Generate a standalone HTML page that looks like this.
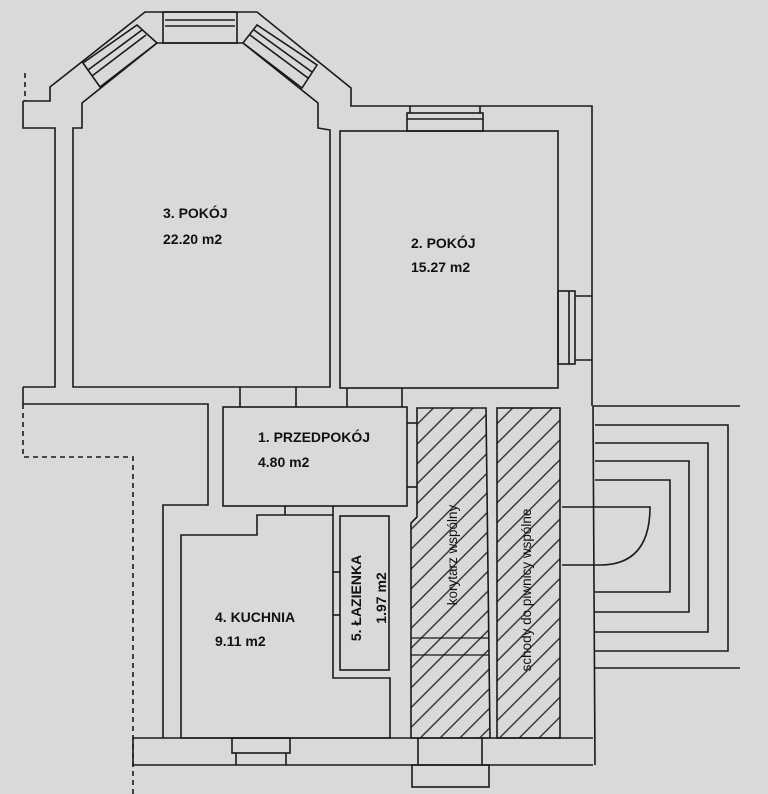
<!DOCTYPE html>
<html><head><meta charset="utf-8"><style>
html,body{margin:0;padding:0;background:#d9d9d7;}
svg{display:block}
text{font-family:"Liberation Sans",sans-serif;fill:#111;}
.b{font-weight:bold;font-size:14px;}
.n{font-size:13.5px;}
</style></head><body>
<svg width="768" height="794" viewBox="0 0 768 794" xmlns="http://www.w3.org/2000/svg">
<defs>
<pattern id="h" patternUnits="userSpaceOnUse" width="14" height="14" patternTransform="rotate(45)">
<line x1="0" y1="0" x2="0" y2="14" stroke="#222" stroke-width="1.3" transform="translate(7,0)"/>
</pattern>
</defs>
<rect width="768" height="794" fill="#d9d9d7"/>
<g fill="none" stroke="#1a1a1a" stroke-width="1.6">
<polyline points="23,101 50,101 50,87 145,12 257,12 351,88 351,106 592,106 592,406"/>
<polygon points="73,128 82,128 82,103 157,43 243,43 318,103 318,128 330,130 330,387 73,387"/>
<polyline points="23,101 23,128 55,128 55,387 23,387"/>
<line x1="23" y1="387" x2="23" y2="404"/>
<polyline points="23,404 208,404 208,505 163,505 163,738 133,738 133,765 593,765"/>
<rect x="163" y="12" width="74" height="31"/>
<line x1="165" y1="20" x2="235" y2="20"/><line x1="165" y1="26" x2="235" y2="26"/>
<polygon points="83,63 100,87 157,43 137,25"/>
<line x1="88" y1="70" x2="142" y2="30"/><line x1="92" y1="76" x2="146" y2="35"/>
<polygon points="257,25 243,43 302,88 317,65"/>
<line x1="254" y1="30" x2="312" y2="72"/><line x1="250" y1="35" x2="308" y2="78"/>
<rect x="340" y="131" width="218" height="257"/>
<rect x="407" y="113" width="76" height="18"/>
<line x1="410" y1="106" x2="410" y2="113"/><line x1="480" y1="106" x2="480" y2="113"/>
<line x1="407" y1="119" x2="483" y2="119"/>
<rect x="558" y="291" width="17" height="73"/>
<line x1="569" y1="291" x2="569" y2="364"/>
<line x1="575" y1="296" x2="592" y2="296"/><line x1="575" y1="360" x2="592" y2="360"/>
<line x1="240" y1="387" x2="240" y2="407"/><line x1="296" y1="387" x2="296" y2="407"/>
<line x1="347" y1="388" x2="347" y2="407"/><line x1="402" y1="388" x2="402" y2="407"/>
<rect x="223" y="407" width="184" height="99"/>
<line x1="407" y1="423" x2="417" y2="423"/><line x1="407" y1="487" x2="417" y2="487"/>
<line x1="285" y1="506" x2="285" y2="515"/><line x1="333" y1="506" x2="333" y2="515"/>
<polygon points="181,535 257,535 257,515 333,515 333,678 390,678 390,738 181,738"/>
<rect x="340" y="516" width="49" height="154"/>
<line x1="333" y1="572" x2="340" y2="572"/><line x1="333" y1="615" x2="340" y2="615"/>
<line x1="163" y1="738" x2="593" y2="738"/>
<rect x="232" y="738" width="58" height="15"/>
<line x1="236" y1="753" x2="236" y2="765"/><line x1="286" y1="753" x2="286" y2="765"/>
<rect x="412" y="765" width="77" height="22"/>
<line x1="418" y1="738" x2="418" y2="765"/><line x1="482" y1="738" x2="482" y2="765"/>
<line x1="593" y1="406" x2="595" y2="765"/>
<line x1="593" y1="406" x2="740" y2="406"/>
<polyline points="595,425 728,425 728,651 595,651"/>
<polyline points="595,443 708,443 708,632 595,632"/>
<polyline points="595,461 689,461 689,612 595,612"/>
<polyline points="595,480 670,480 670,592 595,592"/>
<line x1="595" y1="668" x2="740" y2="668"/>
<path d="M562,507 H650 Q650,565 600,565 H562"/>
</g>
<polygon points="417,408 486,408 490,738 411,738 411,523 417,517" fill="url(#h)" stroke="#1a1a1a" stroke-width="1.6"/>
<line x1="411" y1="638" x2="489" y2="638" stroke="#1a1a1a" stroke-width="1.2"/>
<line x1="411" y1="655" x2="489" y2="655" stroke="#1a1a1a" stroke-width="1.2"/>
<rect x="497" y="408" width="63" height="330" fill="url(#h)" stroke="#1a1a1a" stroke-width="1.6"/>
<g fill="none" stroke="#1a1a1a" stroke-width="1.6" stroke-dasharray="5,4">
<line x1="25" y1="73" x2="25" y2="101"/>
<polyline points="23,404 23,457 133,457 133,794"/>
</g>
<text class="b" x="163" y="218">3. POKÓJ</text>
<text class="b" x="163" y="244">22.20 m2</text>
<text class="b" x="411" y="248">2. POKÓJ</text>
<text class="b" x="411" y="272">15.27 m2</text>
<text class="b" x="258" y="442">1. PRZEDPOKÓJ</text>
<text class="b" x="258" y="467">4.80 m2</text>
<text class="b" x="215" y="622">4. KUCHNIA</text>
<text class="b" x="215" y="646">9.11 m2</text>
<text class="b" transform="translate(361,598) rotate(-90)" text-anchor="middle">5. ŁAZIENKA</text>
<text class="b" transform="translate(386,598) rotate(-90)" text-anchor="middle">1.97 m2</text>
<text class="n" transform="translate(457,555) rotate(-90)" text-anchor="middle">korytarz wspólny</text>
<text class="n" transform="translate(531,590) rotate(-90)" text-anchor="middle">schody do piwnicy wspólne</text>
</svg>
</body></html>
